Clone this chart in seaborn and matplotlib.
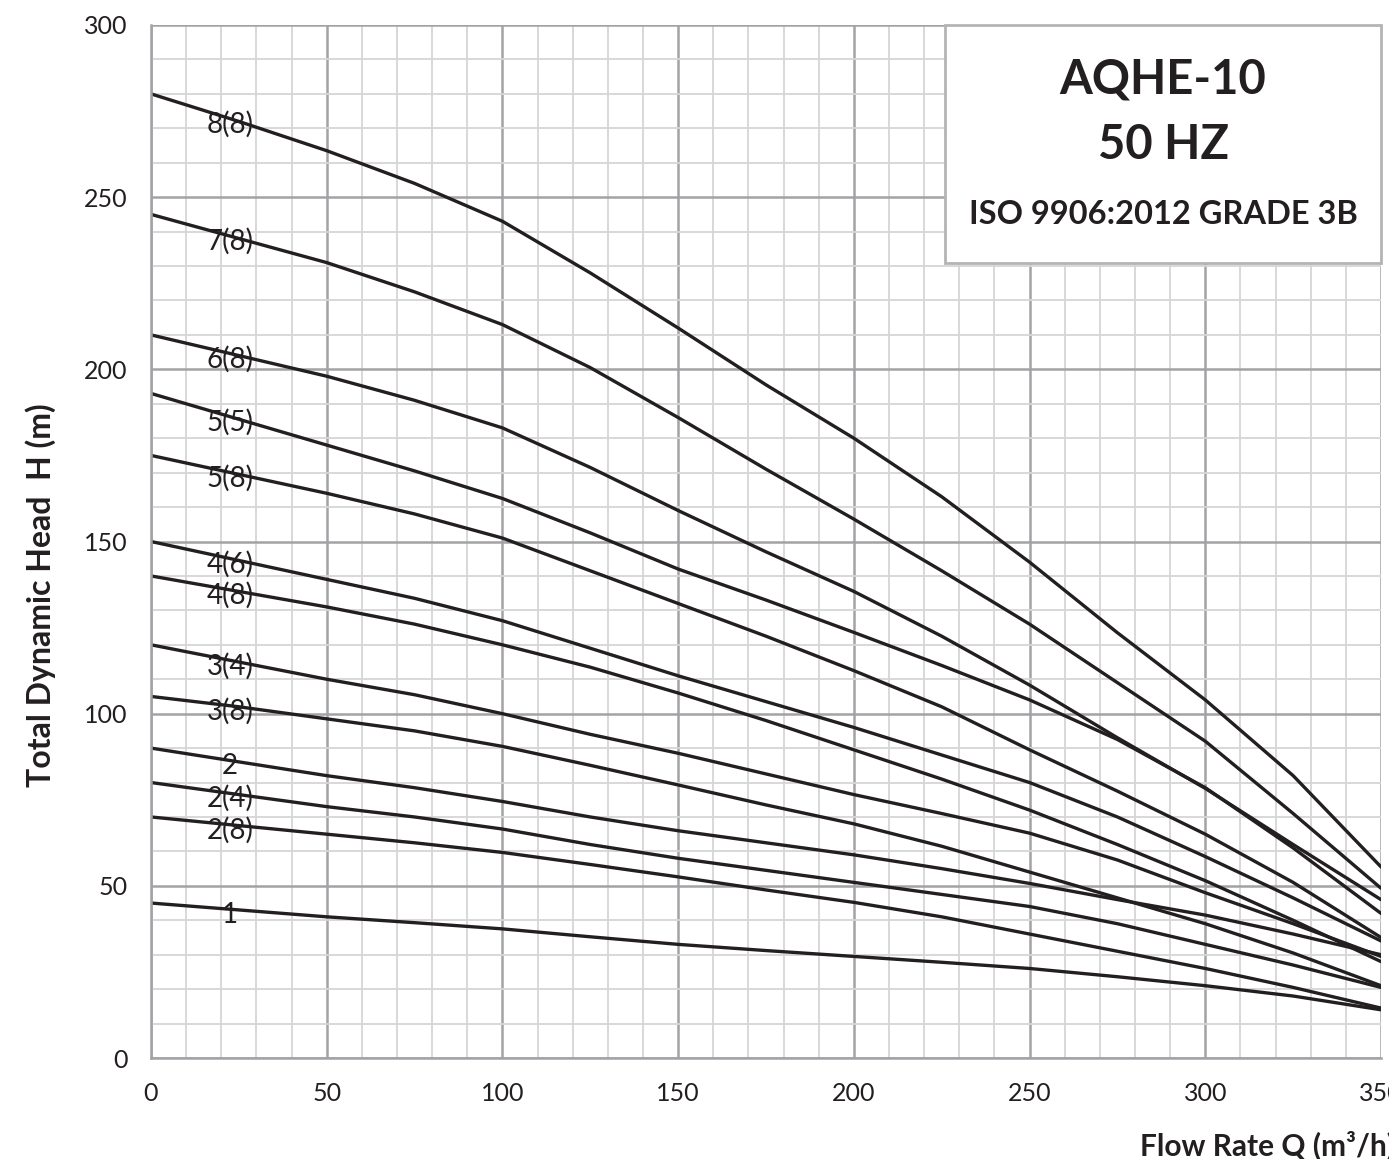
import numpy as np
import pandas as pd
import matplotlib
matplotlib.use("Agg")
import matplotlib.pyplot as plt
import seaborn as sns
from matplotlib.ticker import MultipleLocator
from matplotlib.patches import Rectangle

# Flow rate Q (m3/h) at which heads were read
flow = [0, 25, 50, 75, 100, 125, 150, 175, 200, 225, 250, 275, 300, 325, 350]

# Total dynamic head H (m) per stage / impeller variant
head_8_8 = [280, 272, 263.5, 254, 243, 228, 212, 195.5, 180, 163, 144, 123.5, 104, 82, 55.5]
head_7_8 = [245, 238, 231, 222.5, 213, 200.5, 186, 171, 156.5, 141.5, 126, 109, 92, 71, 49.3]
head_6_8 = [210, 204, 198, 191, 183, 171.5, 159, 147, 135.5, 122.5, 108.3, 93, 78.3, 62, 46]
head_5_5 = [193, 185.5, 178, 170.5, 162.5, 152.5, 142, 133, 123.6, 114, 104, 92.5, 78.5, 61, 42]
head_5_8 = [175, 169.5, 164, 158, 151, 141.5, 132, 122.5, 112.5, 102, 89.5, 77.5, 65, 51, 35]
head_4_6 = [150, 144.5, 139, 133.5, 127, 119, 111, 103.5, 96, 88, 80, 70, 58.5, 46.5, 34]
head_4_8 = [140, 135.5, 131, 126, 120, 113.5, 106, 98, 89.5, 81, 72, 62, 51.5, 40, 28]
head_3_4 = [120, 115, 110, 105.5, 100, 94, 88.5, 82.5, 76.5, 71, 65.3, 57.5, 48, 39, 29.5]
head_3_8 = [105, 102, 98.5, 95, 90.5, 85, 79.3, 73.5, 68, 61.5, 54, 46.5, 39, 30.5, 21]
head_2 = [90, 86, 82, 78.5, 74.5, 70, 66, 62.5, 59, 55, 50.7, 46, 41.5, 36, 30]
head_2_4 = [80, 76.5, 73, 70, 66.5, 62, 58, 54.5, 51, 47.5, 44, 39, 33, 27, 20.5]
head_2_8 = [70, 67.5, 65, 62.5, 59.7, 56.2, 52.6, 48.8, 45.2, 41, 36, 31, 26, 20.5, 14.5]
head_1 = [45, 43, 41, 39.3, 37.5, 35.2, 33, 31.2, 29.5, 27.8, 26, 23.6, 21, 18, 14]

curve_names = ["8(8)", "7(8)", "6(8)", "5(5)", "5(8)", "4(6)", "4(8)",
               "3(4)", "3(8)", "2", "2(4)", "2(8)", "1"]
curve_heads = [head_8_8, head_7_8, head_6_8, head_5_5, head_5_8, head_4_6, head_4_8,
               head_3_4, head_3_8, head_2, head_2_4, head_2_8, head_1]

rows = []
for name, heads in zip(curve_names, curve_heads):
    for q, h in zip(flow, heads):
        rows.append({"curve": name, "Q": q, "H": h})
df = pd.DataFrame(rows)

sns.set_style("white")
plt.rcParams["font.family"] = ["Lato", "DejaVu Sans"]

fig = plt.figure(figsize=(13.89, 11.59), dpi=100)
ax = fig.add_axes([151 / 1389, 1 - 1058 / 1159, 1230 / 1389, 1033 / 1159])

# grid first so curves sit on top
ax.set_xlim(0, 350)
ax.set_ylim(0, 300)
ax.xaxis.set_major_locator(MultipleLocator(50))
ax.yaxis.set_major_locator(MultipleLocator(50))
ax.xaxis.set_minor_locator(MultipleLocator(10))
ax.yaxis.set_minor_locator(MultipleLocator(10))
ax.grid(which="minor", color="#d6d6d8", linewidth=1.3)
ax.grid(which="major", color="#a3a3a7", linewidth=1.8)
ax.set_axisbelow(True)

sns.lineplot(data=df, x="Q", y="H", hue="curve", palette=["#231f20"] * len(curve_names),
             linewidth=2.4, legend=False, ax=ax, sort=False)

for name, heads in zip(curve_names, curve_heads):
    y_lab = np.interp(23, flow, heads) - 1.5
    ax.text(22.5, y_lab, name, ha="center", va="center", fontsize=20, color="#231f20")

for side in ["top", "right"]:
    ax.spines[side].set_visible(False)
for side in ["left", "bottom"]:
    ax.spines[side].set_color("#a3a3a7")
    ax.spines[side].set_linewidth(1.8)

ax.tick_params(which="major", length=7, width=1.5, color="#a3a3a7",
               labelsize=18, labelcolor="#231f20", pad=10)
ax.tick_params(which="minor", length=0)
ax.set_xlabel("")
ax.set_ylabel("Total Dynamic Head  H (m)", fontsize=23, fontweight="bold",
              color="#231f20")
ax.yaxis.set_label_coords(-0.077, 0.448)

# x label is cut by the right edge in the source
fig.text(1140 / 1389, 1 - 1145 / 1159, "Flow Rate Q (m\u00b3/h)", fontsize=21.5,
         fontweight="bold", color="#231f20", ha="left", va="center")

# title box
box = Rectangle((945 / 1389, 1 - 263 / 1159), 436 / 1389, 238 / 1159,
                transform=fig.transFigure, facecolor="white",
                edgecolor="#b4b4b6", linewidth=2, zorder=5)
fig.patches.append(box)
fig.text(1163 / 1389, 1 - 80 / 1159, "AQHE-10", fontsize=34, fontweight="bold",
         color="#231f20", ha="center", va="center", zorder=6)
fig.text(1163 / 1389, 1 - 145 / 1159, "50 HZ", fontsize=34, fontweight="bold",
         color="#231f20", ha="center", va="center", zorder=6)
fig.text(1163 / 1389, 1 - 215 / 1159, "ISO 9906:2012 GRADE 3B", fontsize=23.5,
         fontweight="bold", color="#231f20", ha="center", va="center", zorder=6)

fig.savefig("out.png", dpi=100)
